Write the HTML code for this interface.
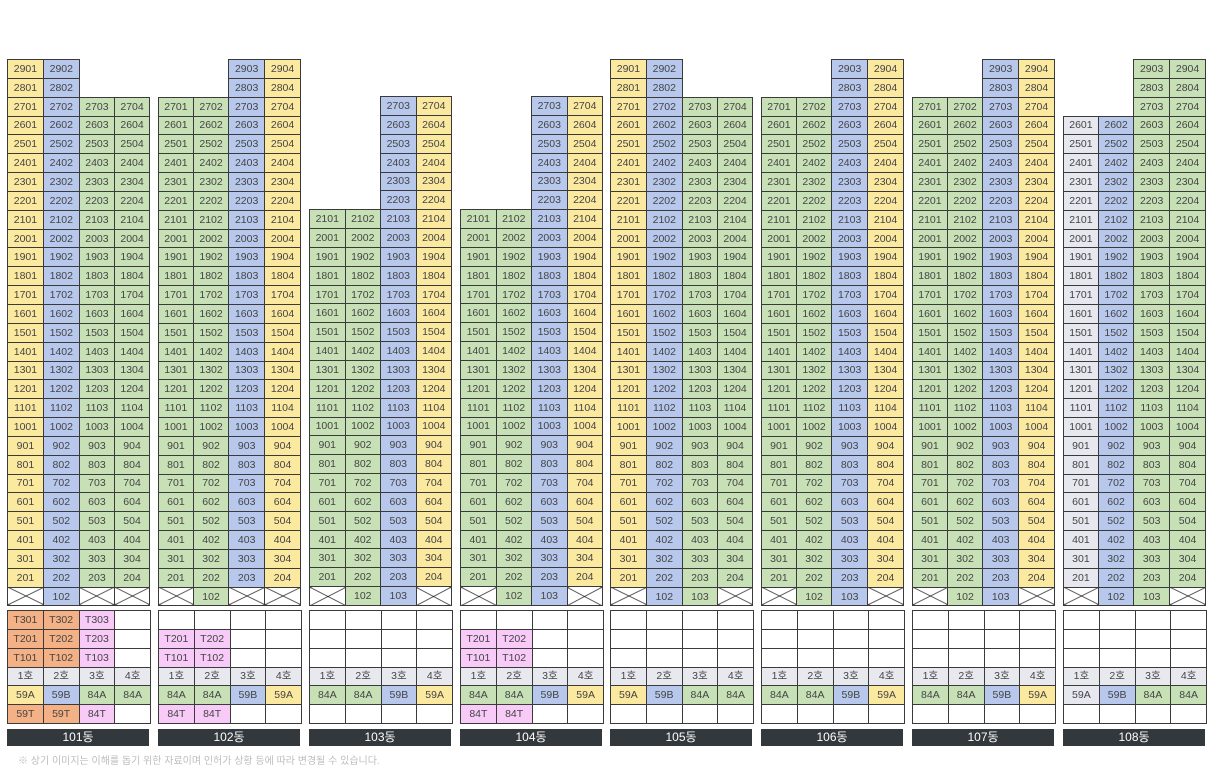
<!DOCTYPE html>
<html><head><meta charset="utf-8"><style>
body{margin:0;width:1213px;height:772px;background:#fff;position:relative;overflow:hidden;font-family:"Liberation Sans","Noto Sans CJK KR",sans-serif}
.bd{position:absolute;top:59px;width:143px}
.lw{position:absolute;top:610px;width:143px}
table{border-collapse:collapse;table-layout:fixed;width:143px}
tr{height:18.85px}
td{width:34.75px;border:1px solid #3a3a3a;padding:0;text-align:center;font-size:10.5px;color:#444;line-height:12px;overflow:hidden;white-space:nowrap;background:#fff}
.A td:nth-child(1){background:#fce9a0}.A td:nth-child(2){background:#b7c8ec}.A td:nth-child(3),.A td:nth-child(4){background:#c7e0b6}
.B td:nth-child(1),.B td:nth-child(2){background:#c7e0b6}.B td:nth-child(3){background:#b7c8ec}.B td:nth-child(4){background:#fce9a0}
.C td:nth-child(1){background:#e6e7ef}.C td:nth-child(2){background:#b7c8ec}.C td:nth-child(3),.C td:nth-child(4){background:#c7e0b6}
td.n{background:none!important;border:none!important}
td.x{background:linear-gradient(to top right,#fff calc(50% - .8px),#333 50%,#fff calc(50% + .8px)),linear-gradient(to bottom right,#fff calc(50% - .8px),#333 50%,#fff calc(50% + .8px))!important;background-blend-mode:multiply!important}
.o{background:#f4b185}.p{background:#f8caf8}.y{background:#fce9a0}.b{background:#b7c8ec}.g{background:#c7e0b6}.w{background:#e6e7ef}.h{background:#e8e9ef}
.lb{position:absolute;top:729px;width:142px;height:17px;background:#33383d;color:#fff;font-size:12px;line-height:17px;text-align:center}
.ft{position:absolute;left:18px;top:752px;font-size:10px;color:#bdbdbd}
</style></head><body>

<div class="bd A" style="left:7px"><table>
<tr><td>2901<td>2902<td class=n><td class=n>
<tr><td>2801<td>2802<td class=n><td class=n>
<tr><td>2701<td>2702<td>2703<td>2704
<tr><td>2601<td>2602<td>2603<td>2604
<tr><td>2501<td>2502<td>2503<td>2504
<tr><td>2401<td>2402<td>2403<td>2404
<tr><td>2301<td>2302<td>2303<td>2304
<tr><td>2201<td>2202<td>2203<td>2204
<tr><td>2101<td>2102<td>2103<td>2104
<tr><td>2001<td>2002<td>2003<td>2004
<tr><td>1901<td>1902<td>1903<td>1904
<tr><td>1801<td>1802<td>1803<td>1804
<tr><td>1701<td>1702<td>1703<td>1704
<tr><td>1601<td>1602<td>1603<td>1604
<tr><td>1501<td>1502<td>1503<td>1504
<tr><td>1401<td>1402<td>1403<td>1404
<tr><td>1301<td>1302<td>1303<td>1304
<tr><td>1201<td>1202<td>1203<td>1204
<tr><td>1101<td>1102<td>1103<td>1104
<tr><td>1001<td>1002<td>1003<td>1004
<tr><td>901<td>902<td>903<td>904
<tr><td>801<td>802<td>803<td>804
<tr><td>701<td>702<td>703<td>704
<tr><td>601<td>602<td>603<td>604
<tr><td>501<td>502<td>503<td>504
<tr><td>401<td>402<td>403<td>404
<tr><td>301<td>302<td>303<td>304
<tr><td>201<td>202<td>203<td>204
<tr><td class=x><td>102<td class=x><td class=x>
</table></div>

<div class="bd B" style="left:158px"><table>
<tr><td class=n><td class=n><td>2903<td>2904
<tr><td class=n><td class=n><td>2803<td>2804
<tr><td>2701<td>2702<td>2703<td>2704
<tr><td>2601<td>2602<td>2603<td>2604
<tr><td>2501<td>2502<td>2503<td>2504
<tr><td>2401<td>2402<td>2403<td>2404
<tr><td>2301<td>2302<td>2303<td>2304
<tr><td>2201<td>2202<td>2203<td>2204
<tr><td>2101<td>2102<td>2103<td>2104
<tr><td>2001<td>2002<td>2003<td>2004
<tr><td>1901<td>1902<td>1903<td>1904
<tr><td>1801<td>1802<td>1803<td>1804
<tr><td>1701<td>1702<td>1703<td>1704
<tr><td>1601<td>1602<td>1603<td>1604
<tr><td>1501<td>1502<td>1503<td>1504
<tr><td>1401<td>1402<td>1403<td>1404
<tr><td>1301<td>1302<td>1303<td>1304
<tr><td>1201<td>1202<td>1203<td>1204
<tr><td>1101<td>1102<td>1103<td>1104
<tr><td>1001<td>1002<td>1003<td>1004
<tr><td>901<td>902<td>903<td>904
<tr><td>801<td>802<td>803<td>804
<tr><td>701<td>702<td>703<td>704
<tr><td>601<td>602<td>603<td>604
<tr><td>501<td>502<td>503<td>504
<tr><td>401<td>402<td>403<td>404
<tr><td>301<td>302<td>303<td>304
<tr><td>201<td>202<td>203<td>204
<tr><td class=x><td>102<td class=x><td class=x>
</table></div>

<div class="bd B" style="left:309px"><table>
<tr><td class=n><td class=n><td class=n><td class=n>
<tr><td class=n><td class=n><td class=n><td class=n>
<tr><td class=n><td class=n><td>2703<td>2704
<tr><td class=n><td class=n><td>2603<td>2604
<tr><td class=n><td class=n><td>2503<td>2504
<tr><td class=n><td class=n><td>2403<td>2404
<tr><td class=n><td class=n><td>2303<td>2304
<tr><td class=n><td class=n><td>2203<td>2204
<tr><td>2101<td>2102<td>2103<td>2104
<tr><td>2001<td>2002<td>2003<td>2004
<tr><td>1901<td>1902<td>1903<td>1904
<tr><td>1801<td>1802<td>1803<td>1804
<tr><td>1701<td>1702<td>1703<td>1704
<tr><td>1601<td>1602<td>1603<td>1604
<tr><td>1501<td>1502<td>1503<td>1504
<tr><td>1401<td>1402<td>1403<td>1404
<tr><td>1301<td>1302<td>1303<td>1304
<tr><td>1201<td>1202<td>1203<td>1204
<tr><td>1101<td>1102<td>1103<td>1104
<tr><td>1001<td>1002<td>1003<td>1004
<tr><td>901<td>902<td>903<td>904
<tr><td>801<td>802<td>803<td>804
<tr><td>701<td>702<td>703<td>704
<tr><td>601<td>602<td>603<td>604
<tr><td>501<td>502<td>503<td>504
<tr><td>401<td>402<td>403<td>404
<tr><td>301<td>302<td>303<td>304
<tr><td>201<td>202<td>203<td>204
<tr><td class=x><td>102<td>103<td class=x>
</table></div>

<div class="bd B" style="left:460px"><table>
<tr><td class=n><td class=n><td class=n><td class=n>
<tr><td class=n><td class=n><td class=n><td class=n>
<tr><td class=n><td class=n><td>2703<td>2704
<tr><td class=n><td class=n><td>2603<td>2604
<tr><td class=n><td class=n><td>2503<td>2504
<tr><td class=n><td class=n><td>2403<td>2404
<tr><td class=n><td class=n><td>2303<td>2304
<tr><td class=n><td class=n><td>2203<td>2204
<tr><td>2101<td>2102<td>2103<td>2104
<tr><td>2001<td>2002<td>2003<td>2004
<tr><td>1901<td>1902<td>1903<td>1904
<tr><td>1801<td>1802<td>1803<td>1804
<tr><td>1701<td>1702<td>1703<td>1704
<tr><td>1601<td>1602<td>1603<td>1604
<tr><td>1501<td>1502<td>1503<td>1504
<tr><td>1401<td>1402<td>1403<td>1404
<tr><td>1301<td>1302<td>1303<td>1304
<tr><td>1201<td>1202<td>1203<td>1204
<tr><td>1101<td>1102<td>1103<td>1104
<tr><td>1001<td>1002<td>1003<td>1004
<tr><td>901<td>902<td>903<td>904
<tr><td>801<td>802<td>803<td>804
<tr><td>701<td>702<td>703<td>704
<tr><td>601<td>602<td>603<td>604
<tr><td>501<td>502<td>503<td>504
<tr><td>401<td>402<td>403<td>404
<tr><td>301<td>302<td>303<td>304
<tr><td>201<td>202<td>203<td>204
<tr><td class=x><td>102<td>103<td class=x>
</table></div>

<div class="bd A" style="left:610px"><table>
<tr><td>2901<td>2902<td class=n><td class=n>
<tr><td>2801<td>2802<td class=n><td class=n>
<tr><td>2701<td>2702<td>2703<td>2704
<tr><td>2601<td>2602<td>2603<td>2604
<tr><td>2501<td>2502<td>2503<td>2504
<tr><td>2401<td>2402<td>2403<td>2404
<tr><td>2301<td>2302<td>2303<td>2304
<tr><td>2201<td>2202<td>2203<td>2204
<tr><td>2101<td>2102<td>2103<td>2104
<tr><td>2001<td>2002<td>2003<td>2004
<tr><td>1901<td>1902<td>1903<td>1904
<tr><td>1801<td>1802<td>1803<td>1804
<tr><td>1701<td>1702<td>1703<td>1704
<tr><td>1601<td>1602<td>1603<td>1604
<tr><td>1501<td>1502<td>1503<td>1504
<tr><td>1401<td>1402<td>1403<td>1404
<tr><td>1301<td>1302<td>1303<td>1304
<tr><td>1201<td>1202<td>1203<td>1204
<tr><td>1101<td>1102<td>1103<td>1104
<tr><td>1001<td>1002<td>1003<td>1004
<tr><td>901<td>902<td>903<td>904
<tr><td>801<td>802<td>803<td>804
<tr><td>701<td>702<td>703<td>704
<tr><td>601<td>602<td>603<td>604
<tr><td>501<td>502<td>503<td>504
<tr><td>401<td>402<td>403<td>404
<tr><td>301<td>302<td>303<td>304
<tr><td>201<td>202<td>203<td>204
<tr><td class=x><td>102<td>103<td class=x>
</table></div>

<div class="bd B" style="left:761px"><table>
<tr><td class=n><td class=n><td>2903<td>2904
<tr><td class=n><td class=n><td>2803<td>2804
<tr><td>2701<td>2702<td>2703<td>2704
<tr><td>2601<td>2602<td>2603<td>2604
<tr><td>2501<td>2502<td>2503<td>2504
<tr><td>2401<td>2402<td>2403<td>2404
<tr><td>2301<td>2302<td>2303<td>2304
<tr><td>2201<td>2202<td>2203<td>2204
<tr><td>2101<td>2102<td>2103<td>2104
<tr><td>2001<td>2002<td>2003<td>2004
<tr><td>1901<td>1902<td>1903<td>1904
<tr><td>1801<td>1802<td>1803<td>1804
<tr><td>1701<td>1702<td>1703<td>1704
<tr><td>1601<td>1602<td>1603<td>1604
<tr><td>1501<td>1502<td>1503<td>1504
<tr><td>1401<td>1402<td>1403<td>1404
<tr><td>1301<td>1302<td>1303<td>1304
<tr><td>1201<td>1202<td>1203<td>1204
<tr><td>1101<td>1102<td>1103<td>1104
<tr><td>1001<td>1002<td>1003<td>1004
<tr><td>901<td>902<td>903<td>904
<tr><td>801<td>802<td>803<td>804
<tr><td>701<td>702<td>703<td>704
<tr><td>601<td>602<td>603<td>604
<tr><td>501<td>502<td>503<td>504
<tr><td>401<td>402<td>403<td>404
<tr><td>301<td>302<td>303<td>304
<tr><td>201<td>202<td>203<td>204
<tr><td class=x><td>102<td>103<td class=x>
</table></div>

<div class="bd B" style="left:912px"><table>
<tr><td class=n><td class=n><td>2903<td>2904
<tr><td class=n><td class=n><td>2803<td>2804
<tr><td>2701<td>2702<td>2703<td>2704
<tr><td>2601<td>2602<td>2603<td>2604
<tr><td>2501<td>2502<td>2503<td>2504
<tr><td>2401<td>2402<td>2403<td>2404
<tr><td>2301<td>2302<td>2303<td>2304
<tr><td>2201<td>2202<td>2203<td>2204
<tr><td>2101<td>2102<td>2103<td>2104
<tr><td>2001<td>2002<td>2003<td>2004
<tr><td>1901<td>1902<td>1903<td>1904
<tr><td>1801<td>1802<td>1803<td>1804
<tr><td>1701<td>1702<td>1703<td>1704
<tr><td>1601<td>1602<td>1603<td>1604
<tr><td>1501<td>1502<td>1503<td>1504
<tr><td>1401<td>1402<td>1403<td>1404
<tr><td>1301<td>1302<td>1303<td>1304
<tr><td>1201<td>1202<td>1203<td>1204
<tr><td>1101<td>1102<td>1103<td>1104
<tr><td>1001<td>1002<td>1003<td>1004
<tr><td>901<td>902<td>903<td>904
<tr><td>801<td>802<td>803<td>804
<tr><td>701<td>702<td>703<td>704
<tr><td>601<td>602<td>603<td>604
<tr><td>501<td>502<td>503<td>504
<tr><td>401<td>402<td>403<td>404
<tr><td>301<td>302<td>303<td>304
<tr><td>201<td>202<td>203<td>204
<tr><td class=x><td>102<td>103<td class=x>
</table></div>

<div class="bd C" style="left:1063px"><table>
<tr><td class=n><td class=n><td>2903<td>2904
<tr><td class=n><td class=n><td>2803<td>2804
<tr><td class=n><td class=n><td>2703<td>2704
<tr><td>2601<td>2602<td>2603<td>2604
<tr><td>2501<td>2502<td>2503<td>2504
<tr><td>2401<td>2402<td>2403<td>2404
<tr><td>2301<td>2302<td>2303<td>2304
<tr><td>2201<td>2202<td>2203<td>2204
<tr><td>2101<td>2102<td>2103<td>2104
<tr><td>2001<td>2002<td>2003<td>2004
<tr><td>1901<td>1902<td>1903<td>1904
<tr><td>1801<td>1802<td>1803<td>1804
<tr><td>1701<td>1702<td>1703<td>1704
<tr><td>1601<td>1602<td>1603<td>1604
<tr><td>1501<td>1502<td>1503<td>1504
<tr><td>1401<td>1402<td>1403<td>1404
<tr><td>1301<td>1302<td>1303<td>1304
<tr><td>1201<td>1202<td>1203<td>1204
<tr><td>1101<td>1102<td>1103<td>1104
<tr><td>1001<td>1002<td>1003<td>1004
<tr><td>901<td>902<td>903<td>904
<tr><td>801<td>802<td>803<td>804
<tr><td>701<td>702<td>703<td>704
<tr><td>601<td>602<td>603<td>604
<tr><td>501<td>502<td>503<td>504
<tr><td>401<td>402<td>403<td>404
<tr><td>301<td>302<td>303<td>304
<tr><td>201<td>202<td>203<td>204
<tr><td class=x><td>102<td>103<td class=x>
</table></div>

<div class="lw" style="left:7px"><table>
<tr><td class=o>T301<td class=o>T302<td class=p>T303<td>
<tr><td class=o>T201<td class=o>T202<td class=p>T203<td>
<tr><td class=o>T101<td class=o>T102<td class=p>T103<td>
<tr><td class=h>1호<td class=h>2호<td class=h>3호<td class=h>4호
<tr><td class=y>59A<td class=b>59B<td class=g>84A<td class=g>84A
<tr><td class=o>59T<td class=o>59T<td class=p>84T<td>
</table></div>
<div class="lw" style="left:158px"><table>
<tr><td><td><td><td>
<tr><td class=p>T201<td class=p>T202<td><td>
<tr><td class=p>T101<td class=p>T102<td><td>
<tr><td class=h>1호<td class=h>2호<td class=h>3호<td class=h>4호
<tr><td class=g>84A<td class=g>84A<td class=b>59B<td class=y>59A
<tr><td class=p>84T<td class=p>84T<td><td>
</table></div>
<div class="lw" style="left:309px"><table>
<tr><td><td><td><td>
<tr><td><td><td><td>
<tr><td><td><td><td>
<tr><td class=h>1호<td class=h>2호<td class=h>3호<td class=h>4호
<tr><td class=g>84A<td class=g>84A<td class=b>59B<td class=y>59A
<tr><td><td><td><td>
</table></div>
<div class="lw" style="left:460px"><table>
<tr><td><td><td><td>
<tr><td class=p>T201<td class=p>T202<td><td>
<tr><td class=p>T101<td class=p>T102<td><td>
<tr><td class=h>1호<td class=h>2호<td class=h>3호<td class=h>4호
<tr><td class=g>84A<td class=g>84A<td class=b>59B<td class=y>59A
<tr><td class=p>84T<td class=p>84T<td><td>
</table></div>
<div class="lw" style="left:610px"><table>
<tr><td><td><td><td>
<tr><td><td><td><td>
<tr><td><td><td><td>
<tr><td class=h>1호<td class=h>2호<td class=h>3호<td class=h>4호
<tr><td class=y>59A<td class=b>59B<td class=g>84A<td class=g>84A
<tr><td><td><td><td>
</table></div>
<div class="lw" style="left:761px"><table>
<tr><td><td><td><td>
<tr><td><td><td><td>
<tr><td><td><td><td>
<tr><td class=h>1호<td class=h>2호<td class=h>3호<td class=h>4호
<tr><td class=g>84A<td class=g>84A<td class=b>59B<td class=y>59A
<tr><td><td><td><td>
</table></div>
<div class="lw" style="left:912px"><table>
<tr><td><td><td><td>
<tr><td><td><td><td>
<tr><td><td><td><td>
<tr><td class=h>1호<td class=h>2호<td class=h>3호<td class=h>4호
<tr><td class=g>84A<td class=g>84A<td class=b>59B<td class=y>59A
<tr><td><td><td><td>
</table></div>
<div class="lw" style="left:1063px"><table>
<tr><td><td><td><td>
<tr><td><td><td><td>
<tr><td><td><td><td>
<tr><td class=h>1호<td class=h>2호<td class=h>3호<td class=h>4호
<tr><td class=w>59A<td class=b>59B<td class=g>84A<td class=g>84A
<tr><td><td><td><td>
</table></div>

<div class="lb" style="left:7px">101동</div>
<div class="lb" style="left:158px">102동</div>
<div class="lb" style="left:309px">103동</div>
<div class="lb" style="left:460px">104동</div>
<div class="lb" style="left:610px">105동</div>
<div class="lb" style="left:761px">106동</div>
<div class="lb" style="left:912px">107동</div>
<div class="lb" style="left:1063px">108동</div>

<div class="ft">※ 상기 이미지는 이해를 돕기 위한 자료이며 인허가 상황 등에 따라 변경될 수 있습니다.</div>
</body></html>
